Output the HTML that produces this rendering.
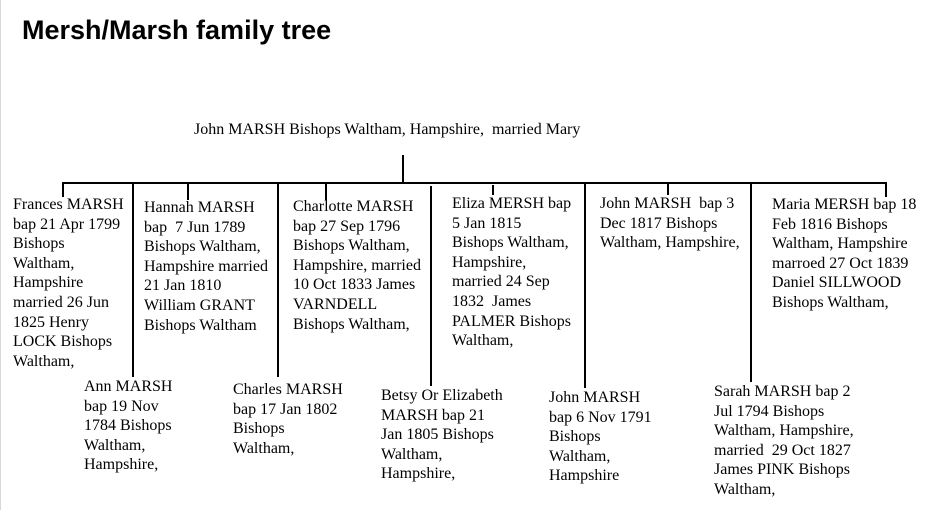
<!DOCTYPE html>
<html><head><meta charset="utf-8"><style>
html,body{margin:0;padding:0;background:#fff;}
body{width:925px;height:510px;position:relative;overflow:hidden;border-left:1px solid #d8d8d8;box-sizing:border-box;}
h1{position:absolute;left:21px;top:15px;margin:0;font:bold 27px "Liberation Sans",Arial,sans-serif;color:#000;}
.t{position:absolute;font:16px/19.6px "Liberation Serif","Times New Roman",serif;color:#000;white-space:nowrap;}
svg{position:absolute;left:0;top:0;}
</style></head><body>
<h1>Mersh/Marsh family tree</h1>
<div class="t" style="left:193px;top:120px">John MARSH Bishops Waltham, Hampshire,&nbsp; married Mary</div>
<svg width="925" height="510">
<g stroke="#000" stroke-width="2" fill="none">
<line x1="402" y1="155" x2="402" y2="183"/>
<line x1="61" y1="183" x2="886" y2="183"/>
<line x1="62" y1="182" x2="62" y2="197"/>
<line x1="132" y1="182" x2="132" y2="377"/>
<line x1="187" y1="182" x2="187" y2="200"/>
<line x1="277" y1="182" x2="277" y2="377"/>
<line x1="325" y1="182" x2="325" y2="200"/>
<line x1="430" y1="186" x2="430" y2="386"/>
<line x1="492" y1="185" x2="492" y2="195"/>
<line x1="584" y1="182" x2="584" y2="388"/>
<line x1="667" y1="182" x2="667" y2="195"/>
<line x1="750" y1="182" x2="750" y2="382"/>
<line x1="885" y1="182" x2="885" y2="197"/>
</g></svg>
<div class="t" style="left:12px;top:195px">Frances MARSH<br>bap 21 Apr 1799<br>Bishops<br>Waltham,<br>Hampshire<br>married 26 Jun<br>1825 Henry<br>LOCK Bishops<br>Waltham,</div>
<div class="t" style="left:143px;top:198px">Hannah MARSH<br>bap&nbsp; 7 Jun 1789<br>Bishops Waltham,<br>Hampshire married<br>21 Jan 1810<br>William GRANT<br>Bishops Waltham</div>
<div class="t" style="left:292px;top:197px">Charlotte MARSH<br>bap 27 Sep 1796<br>Bishops Waltham,<br>Hampshire, married<br>10 Oct 1833 James<br>VARNDELL<br>Bishops Waltham,</div>
<div class="t" style="left:451px;top:194px">Eliza MERSH bap<br>5 Jan 1815<br>Bishops Waltham,<br>Hampshire,<br>married 24 Sep<br>1832&nbsp; James<br>PALMER Bishops<br>Waltham,</div>
<div class="t" style="left:599px;top:194px">John MARSH&nbsp; bap 3<br>Dec 1817 Bishops<br>Waltham, Hampshire,</div>
<div class="t" style="left:771px;top:195px">Maria MERSH bap 18<br>Feb 1816 Bishops<br>Waltham, Hampshire<br>marroed 27 Oct 1839<br>Daniel SILLWOOD<br>Bishops Waltham,</div>
<div class="t" style="left:83px;top:377px">Ann MARSH<br>bap 19 Nov<br>1784 Bishops<br>Waltham,<br>Hampshire,</div>
<div class="t" style="left:232px;top:380px">Charles MARSH<br>bap 17 Jan 1802<br>Bishops<br>Waltham,</div>
<div class="t" style="left:380px;top:386px">Betsy Or Elizabeth<br>MARSH bap 21<br>Jan 1805 Bishops<br>Waltham,<br>Hampshire,</div>
<div class="t" style="left:548px;top:388px">John MARSH<br>bap 6 Nov 1791<br>Bishops<br>Waltham,<br>Hampshire</div>
<div class="t" style="left:713px;top:382px">Sarah MARSH bap 2<br>Jul 1794 Bishops<br>Waltham, Hampshire,<br>married&nbsp; 29 Oct 1827<br>James PINK Bishops<br>Waltham,</div>
</body></html>
